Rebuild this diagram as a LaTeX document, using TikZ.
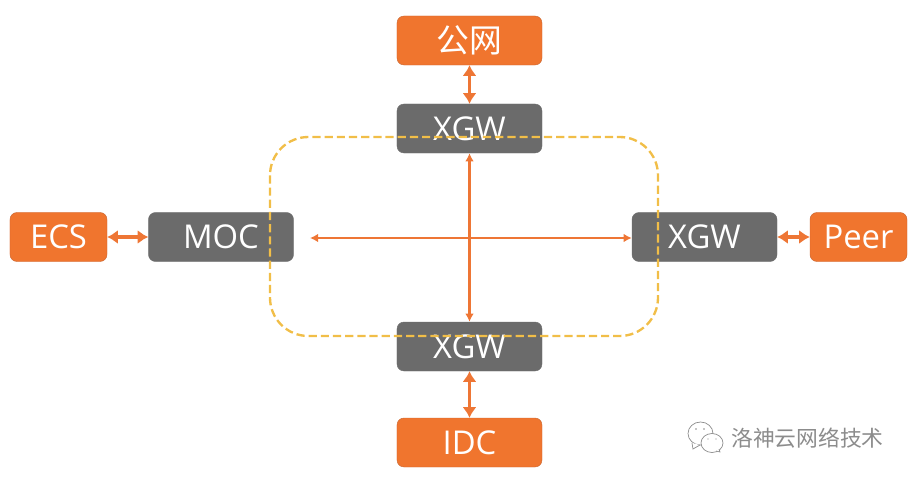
\documentclass[tikz,border=0pt]{standalone}
\usepackage{fontspec}
\setmainfont{Open Sans}
\newfontfamily\cjkfont{Noto Sans CJK SC}
\usetikzlibrary{arrows.meta}
\definecolor{colOrange}{HTML}{F0752E}
\definecolor{colOrangeLine}{HTML}{C9652E}
\definecolor{colGray}{HTML}{6B6B6B}
\definecolor{colArrow}{HTML}{EE7635}
\definecolor{colYellow}{HTML}{F1BE48}
\definecolor{colMark}{HTML}{8C8C8C}
\def\boxfont{\fontsize{28pt}{32pt}\selectfont}
\def\markfont{\fontsize{18.6pt}{22pt}\selectfont}
\tikzset{
  gwbox/.style={draw=colGray, fill=colGray, text=white, rounded corners=6pt, font=\boxfont,
    minimum width=4.35cm, minimum height=1.47cm, inner sep=0pt},
  endbox/.style={gwbox, draw=colOrangeLine, fill=colOrange},
  shortbox/.style={endbox, minimum width=2.91cm},
  linkfat/.style={{Latex[length=9pt,width=12pt]}-{Latex[length=9pt,width=12pt]}, draw=colArrow, line width=3pt},
  linkthin/.style={{Latex[length=7pt,width=7.5pt]}-{Latex[length=7pt,width=7.5pt]}, draw=colArrow, line width=1.9pt},
  bubble/.style={draw=colMark, fill=white, line width=0.6pt}
}

\begin{document}
\begin{tikzpicture}[x=0.03cm, y=-0.03cm]
\useasboundingbox (0,0) rectangle (913,479);

% ===================== BOXES =====================
\node[endbox] (gongwang) at (469.5,40.5) {\cjkfont 公网};
\node[gwbox] (xgwTop) at (469.5,128.5) {XGW};
\node[gwbox] (moc) at (221,237) {MOC};
\node[shortbox] (ecs) at (58.5,237) {ECS};
\node[gwbox] (xgwRight) at (704.5,237) {XGW};
\node[shortbox] (peer) at (858.5,237) {Peer};
\node[gwbox] (xgwBottom) at (469.5,346.5) {XGW};
\node[endbox] (idc) at (469.5,442.5) {IDC};

% ===================== LINKS =====================
\coordinate (mocFree) at (310,238);
\draw[linkfat] (gongwang) -- (xgwTop);
\draw[linkfat] (xgwBottom) -- (idc);
\draw[linkfat] (ecs) -- (moc);
\draw[linkfat] (xgwRight) -- (peer);
\draw[linkthin] (xgwTop) -- (xgwBottom);
\draw[linkthin] (mocFree) -- (xgwRight.west |- mocFree);

% ===================== DASHED RING =====================
\draw[draw=colYellow, line width=2pt, dash pattern=on 7pt off 3.4pt, rounded corners=1.15cm]
  (270,137) rectangle (658,336);

% ===================== WATERMARK =====================
\draw[bubble] (700.5,433.5) ellipse (12.5 and 11.5);
\draw[bubble] (692,443) -- (693,449) -- (700,445);
\draw[bubble] (712,443) ellipse (11 and 9.5);
\draw[bubble] (716,451) -- (720,452) -- (719,449);
\fill[colMark] (696,429) circle (0.9) (704,429) circle (0.9) (708,439) circle (0.7) (716,439) circle (0.7);
\node[font=\markfont\cjkfont, text=colMark, inner sep=0pt] (mark) at (807.5,438.5) {洛神云网络技术};

\end{tikzpicture}
\end{document}
